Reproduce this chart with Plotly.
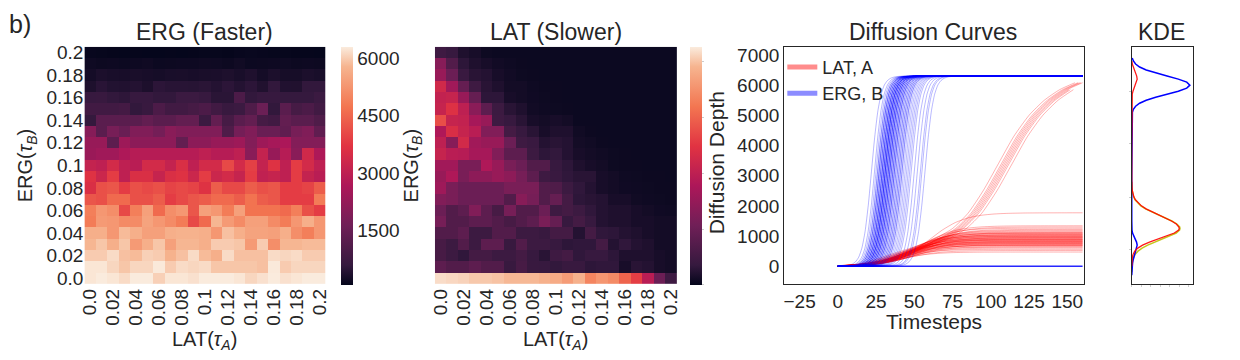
import plotly.graph_objects as go

W, H = 1240, 360
FONT = "Liberation Sans"
INK = "#262626"

# heatmap axes (tau values, labelled every second one)
tau = ["0.0", "0.01", "0.02", "0.03", "0.04", "0.05", "0.06", "0.07", "0.08", "0.09", "0.1",
       "0.11", "0.12", "0.13", "0.14", "0.15", "0.16", "0.17", "0.18", "0.19", "0.2"]
tau_ticks = ["0.0", "0.02", "0.04", "0.06", "0.08", "0.1", "0.12", "0.14", "0.16", "0.18", "0.2"]

# ERG (Faster) diffusion depth, rows from tau_B = 0.2 (top) down to 0.0
erg_rows = [
    [130, 120, 110, 100, 110, 100, 100, 110, 100, 110, 120, 120, 110, 130, 140, 130, 120, 120, 110, 110, 100],
    [200, 180, 190, 170, 190, 210, 170, 180, 190, 190, 210, 200, 180, 220, 170, 180, 190, 200, 180, 190, 180],
    [260, 330, 300, 290, 310, 290, 270, 300, 310, 290, 310, 320, 350, 300, 360, 260, 330, 280, 280, 330, 300],
    [350, 470, 400, 390, 420, 340, 500, 460, 460, 450, 480, 420, 500, 420, 500, 380, 560, 390, 380, 560, 560],
    [620, 640, 560, 520, 620, 620, 560, 560, 700, 700, 620, 480, 480, 1000, 560, 620, 620, 590, 590, 590, 700],
    [800, 800, 800, 850, 560, 650, 1000, 800, 800, 900, 1000, 800, 650, 700, 1050, 1550, 560, 1250, 900, 1000, 800],
    [580, 1250, 1250, 1250, 1250, 1400, 1250, 1250, 1400, 1400, 700, 1400, 900, 1250, 1400, 900, 800, 1400, 1250, 1250, 1050],
    [2000, 1250, 1750, 1500, 1900, 1900, 1700, 2050, 1900, 1900, 1900, 1900, 1050, 1700, 1900, 1500, 1500, 1350, 1750, 1900, 1350],
    [2300, 2300, 1300, 2400, 2100, 2100, 2100, 2100, 1400, 2100, 2100, 2300, 2300, 2400, 1950, 2400, 2550, 2650, 1950, 1950, 1950],
    [2350, 2450, 2450, 2700, 2850, 2850, 2850, 2850, 2850, 2850, 3000, 2850, 2850, 3000, 2050, 3100, 2300, 2850, 2050, 3350, 2700],
    [3100, 3000, 3400, 3000, 2900, 3400, 3400, 3100, 3550, 3000, 3400, 3400, 4050, 3400, 3900, 3100, 3650, 3000, 3850, 3400, 3000],
    [3650, 3250, 3850, 3000, 3550, 3550, 3150, 3550, 3650, 3250, 3850, 3250, 3400, 3150, 3850, 3050, 3150, 3000, 3850, 3100, 2900],
    [3550, 4150, 4250, 3850, 4150, 4050, 4150, 3950, 4050, 3950, 3650, 4350, 4050, 4050, 4350, 4150, 4250, 3850, 3850, 3950, 4350],
    [4250, 4150, 4550, 4550, 4150, 4150, 4350, 3850, 4050, 4250, 4350, 4550, 4550, 4350, 4700, 4350, 4250, 3850, 3850, 3850, 4850],
    [4900, 5300, 5150, 4050, 4900, 5450, 4550, 5150, 5300, 4250, 5450, 5300, 4850, 5450, 4700, 4700, 4700, 4550, 4900, 4150, 3850],
    [4850, 5350, 5300, 5100, 5100, 5500, 5300, 5100, 4850, 4050, 4550, 5800, 5350, 5100, 5450, 5450, 5100, 4850, 5300, 5700, 5300],
    [5700, 5700, 5300, 5850, 5700, 5450, 5450, 5700, 5750, 5750, 5700, 5300, 5900, 5700, 5500, 5500, 5450, 5700, 5150, 4900, 5300],
    [5800, 5950, 5700, 5950, 5350, 5700, 5950, 5450, 5800, 5800, 5700, 6000, 6000, 5950, 5350, 6000, 5150, 5800, 5800, 5850, 5850],
    [6000, 6000, 6150, 5900, 5850, 6050, 6000, 5750, 5900, 6150, 5850, 5700, 6150, 5900, 5900, 5900, 6150, 6100, 6150, 6000, 6000],
    [6250, 6250, 6100, 5950, 6100, 6100, 6280, 6000, 6150, 6100, 6150, 5950, 5950, 5950, 5950, 5900, 6280, 6000, 6100, 6100, 6100],
    [6250, 6300, 6250, 6150, 6300, 6300, 6050, 6250, 6250, 6200, 6300, 6300, 6300, 6250, 6100, 6200, 6300, 6200, 6250, 6300, 6300],
]

# LAT (Slower) diffusion depth, rows from tau_B = 0.2 (top) down to 0.0
lat_rows = [
    [700, 560, 300, 220, 120, 100, 100, 100, 100, 100, 100, 100, 100, 100, 100, 100, 100, 100, 100, 100, 100],
    [2000, 1050, 450, 300, 220, 160, 130, 110, 100, 100, 100, 100, 100, 100, 100, 100, 100, 100, 100, 100, 100],
    [2300, 1500, 600, 400, 350, 220, 160, 120, 110, 100, 100, 100, 100, 100, 100, 100, 100, 100, 100, 100, 100],
    [3350, 2450, 1400, 700, 400, 300, 180, 180, 130, 110, 110, 100, 100, 100, 100, 100, 100, 100, 100, 100, 100],
    [3100, 3150, 2300, 1400, 450, 450, 220, 180, 140, 120, 110, 100, 100, 100, 100, 100, 100, 100, 100, 100, 100],
    [3150, 3650, 3000, 2050, 1250, 650, 400, 300, 160, 130, 120, 110, 100, 100, 100, 100, 100, 100, 100, 100, 100],
    [4150, 3150, 3100, 2550, 2300, 700, 560, 400, 220, 180, 220, 180, 100, 100, 100, 100, 100, 100, 100, 100, 100],
    [2700, 3550, 3150, 2900, 1900, 1900, 800, 560, 400, 220, 300, 300, 150, 110, 100, 100, 100, 100, 100, 100, 100],
    [3000, 2000, 3400, 2450, 2300, 2300, 1500, 700, 600, 350, 400, 350, 180, 150, 110, 100, 100, 100, 100, 100, 100],
    [3150, 2900, 2850, 2550, 2550, 1900, 1250, 1250, 650, 450, 500, 350, 220, 180, 150, 120, 110, 100, 100, 100, 100],
    [2450, 2450, 1750, 1750, 2700, 2300, 1750, 1500, 1050, 1050, 560, 450, 300, 220, 180, 120, 110, 110, 100, 100, 100],
    [2300, 2700, 1750, 2100, 2100, 2300, 2100, 1700, 1250, 700, 600, 480, 400, 400, 220, 180, 130, 120, 110, 110, 100],
    [2400, 1750, 1500, 1500, 1500, 1500, 1750, 1750, 1750, 1050, 1000, 650, 480, 350, 220, 180, 140, 130, 120, 110, 110],
    [1900, 1750, 1500, 1500, 1500, 1500, 1050, 2000, 1700, 1050, 1400, 800, 450, 400, 350, 220, 220, 150, 130, 120, 110],
    [1500, 1050, 1250, 1900, 1250, 850, 1700, 1050, 1050, 1500, 700, 800, 650, 480, 350, 300, 300, 220, 180, 140, 130],
    [1700, 1050, 1050, 1250, 1250, 1050, 850, 1050, 1250, 1750, 1400, 560, 800, 560, 350, 300, 300, 220, 220, 180, 180],
    [1050, 1050, 1250, 650, 650, 1050, 1050, 650, 650, 580, 800, 800, 350, 800, 480, 450, 350, 300, 220, 180, 180],
    [850, 650, 1050, 650, 1250, 1250, 580, 1050, 650, 650, 560, 450, 480, 480, 800, 350, 480, 350, 300, 180, 180],
    [850, 650, 480, 800, 800, 650, 650, 800, 560, 400, 700, 800, 480, 560, 560, 450, 300, 300, 300, 220, 180],
    [1250, 1050, 1050, 1250, 1050, 1050, 580, 850, 580, 560, 500, 580, 580, 450, 480, 480, 220, 400, 350, 220, 180],
    [6250, 6200, 6150, 6050, 6050, 6000, 5900, 5900, 5900, 5800, 5700, 5450, 5800, 5050, 5350, 5150, 4500, 3900, 2900, 1500, 700],
]

# diffusion curves: a sigmoid rise (fraction of final depth vs offset from midpoint)
rise_offset = [-40, -32, -26, -22, -18, -15, -12, -9, -6, -3, 0, 3, 6, 9, 12, 15, 18, 22, 26, 32, 40]
rise_frac = [0.0, 0.0003, 0.0015, 0.004, 0.011, 0.023, 0.047, 0.095, 0.182, 0.321, 0.5,
             0.679, 0.818, 0.905, 0.953, 0.977, 0.989, 0.996, 0.9985, 0.9997, 1.0]

erg_final = 6300
erg_mid = [22, 24, 25, 26, 26, 27, 27, 27, 28, 28, 28, 29, 29, 29, 29, 30, 30, 30, 30, 31, 31, 31, 31, 31,
           32, 32, 32, 32, 33, 33, 33, 33, 34, 34, 34, 34, 35, 35, 35, 36, 36, 36, 37, 37, 37, 38, 38, 39,
           39, 40, 40, 41, 41, 42, 42, 43, 44, 45, 46, 47, 48, 50, 52, 54, 55, 57]

lat_plateau = [470, 520, 560, 600, 630, 650, 680, 700, 710, 730, 750, 760, 780, 800, 810, 830, 850, 860, 880, 900,
               910, 930, 950, 960, 980, 1000, 1010, 1030, 1050, 1070, 1090, 1110, 1130, 1160, 1190, 1220, 1260, 1300,
               1340, 1770, 690, 740, 790, 820, 870, 890, 940, 990, 1040, 1100]
lat_mid = [40, 44, 41, 46, 43, 48, 42, 45, 50, 44, 47, 41, 49, 45, 43, 52, 46, 44, 48, 50,
           45, 47, 53, 46, 49, 51, 44, 48, 52, 47, 50, 54, 49, 51, 53, 55, 52, 56, 54, 60,
           46, 43, 47, 45, 49, 44, 48, 46, 50, 47]

# LAT runs that eventually take over the whole network
late_t = [0, 10, 20, 30, 40, 50, 60, 70, 80, 90, 100, 110, 120, 130, 140, 150, 160]
late_depth = [0, 20, 90, 230, 400, 560, 720, 950, 1250, 1750, 2500, 3400, 4300, 5000, 5500, 5850, 6080]
late_shift = [-5, -3, -2, -1, 0, 1, 2, 4]

# KDE of the final depths
kde_blue_y = [-300, -200, -100, 0, 100, 200, 300, 400, 500, 600, 700, 800, 900, 1000, 1100, 1200, 1300, 1500,
              3000, 4900, 5000, 5100, 5200, 5300, 5400, 5500, 5600, 5700, 5800, 5900, 6000, 6100, 6200, 6300,
              6400, 6500, 6600, 6700, 6800, 6900]
kde_blue_d = [0.0, 0.001, 0.003, 0.006, 0.013, 0.023, 0.038, 0.056, 0.075, 0.088, 0.093, 0.082, 0.056, 0.030,
              0.013, 0.004, 0.001, 0.0, 0.0, 0.001, 0.004, 0.011, 0.028, 0.066, 0.135, 0.249, 0.411, 0.607,
              0.801, 0.946, 1.0, 0.946, 0.801, 0.607, 0.411, 0.249, 0.135, 0.066, 0.028, 0.008]
kde_red_y = [0, 100, 200, 300, 400, 500, 600, 700, 800, 900, 1000, 1100, 1200, 1250, 1300, 1400, 1500, 1600,
             1700, 1800, 1900, 2000, 2100, 2200, 2300, 2400, 2500, 2600, 2800, 4000, 5500, 5600, 5700, 5800,
             5900, 6000, 6100, 6200, 6300, 6400, 6500, 6600, 6700, 6800]
kde_red_d = [0.0, 0.001, 0.004, 0.010, 0.024, 0.052, 0.104, 0.186, 0.304, 0.449, 0.602, 0.732, 0.807, 0.817,
             0.811, 0.766, 0.684, 0.577, 0.460, 0.347, 0.247, 0.166, 0.105, 0.063, 0.036, 0.019, 0.010, 0.005,
             0.001, 0.0, 0.001, 0.003, 0.009, 0.021, 0.040, 0.064, 0.085, 0.093, 0.085, 0.064, 0.040, 0.021,
             0.009, 0.003]
kde_yel_y = [-200, -100, 0, 100, 200, 300, 400, 500, 600, 700, 800, 900, 1000, 1100, 1200, 1250, 1300, 1400,
             1500, 1600, 1700, 1800, 1900, 2000, 2100, 2200, 2300, 2400, 2500, 2600, 2800]
kde_yel_d = [0.0, 0.001, 0.003, 0.007, 0.015, 0.031, 0.059, 0.107, 0.178, 0.275, 0.396, 0.531, 0.661, 0.765,
             0.822, 0.830, 0.824, 0.776, 0.689, 0.577, 0.455, 0.338, 0.236, 0.156, 0.097, 0.057, 0.032, 0.016,
             0.008, 0.004, 0.001]

rocket = [[0.0, "#03051a"], [0.083, "#35193e"], [0.25, "#701f57"], [0.417, "#ad1759"],
          [0.583, "#e13342"], [0.75, "#f37651"], [0.917, "#f6b48f"], [1.0, "#faebdd"]]


def px(x):
    return x / W


def py(y):
    return 1 - y / H


fig = go.Figure()

fig.add_trace(go.Heatmap(
    x=tau, y=tau, z=erg_rows[::-1], colorscale=rocket, zmin=75, zmax=6300,
    xaxis="x", yaxis="y",
    colorbar=dict(x=px(338), xanchor="left", y=py(165.5), yanchor="middle", len=245 / H,
                  thickness=12, outlinewidth=0, xpad=0, ypad=0, ticks="",
                  tickvals=[1500, 3000, 4500, 6000], tickfont=dict(size=19, color=INK)),
))
fig.add_trace(go.Heatmap(
    x=tau, y=tau, z=lat_rows[::-1], colorscale=rocket, zmin=0, zmax=6390,
    xaxis="x2", yaxis="y2",
    colorbar=dict(x=px(690), xanchor="left", y=py(165.5), yanchor="middle", len=245 / H,
                  thickness=12, outlinewidth=0, xpad=0, ypad=0, ticks="outside", ticklen=2,
                  tickcolor="#cccccc", showticklabels=False, tickvals=[0, 1500, 3000, 4500, 6000]),
))

# legend entries
fig.add_trace(go.Scatter(x=[None], y=[None], mode="lines", name="LAT, A",
                         line=dict(color="rgba(255,0,0,0.45)", width=5), xaxis="x3", yaxis="y3"))
fig.add_trace(go.Scatter(x=[None], y=[None], mode="lines", name="ERG, B",
                         line=dict(color="rgba(0,0,255,0.45)", width=5), xaxis="x3", yaxis="y3"))

red = "rgba(255,0,0,0.3)"
blue = "rgba(0,0,255,0.28)"

for plateau, mid in zip(lat_plateau, lat_mid):
    xs, ys = [0], [0]
    for o, f in zip(rise_offset, rise_frac):
        t = mid + o * 2.8
        if 0 < t < 160:
            xs.append(t)
            ys.append(plateau * f)
    xs.append(160)
    ys.append(plateau)
    fig.add_trace(go.Scatter(x=xs, y=ys, mode="lines", line=dict(color=red, width=1, shape="spline", smoothing=0.6),
                             showlegend=False, hoverinfo="skip", xaxis="x3", yaxis="y3"))

for s in late_shift:
    xs, ys = [0], [0]
    for t, v in zip(late_t, late_depth):
        if 0 < t + s <= 160:
            xs.append(t + s)
            ys.append(v)
    fig.add_trace(go.Scatter(x=xs, y=ys, mode="lines", line=dict(color=red, width=1, shape="spline", smoothing=0.6),
                             showlegend=False, hoverinfo="skip", xaxis="x3", yaxis="y3"))

for mid in erg_mid:
    xs, ys = [0], [0]
    for o, f in zip(rise_offset, rise_frac):
        t = mid + o * 0.7
        if 0 < t < 160:
            xs.append(t)
            ys.append(erg_final * f)
    xs.append(160)
    ys.append(erg_final)
    fig.add_trace(go.Scatter(x=xs, y=ys, mode="lines", line=dict(color=blue, width=1, shape="spline", smoothing=0.6),
                             showlegend=False, hoverinfo="skip", xaxis="x3", yaxis="y3"))

fig.add_trace(go.Scatter(x=[0, 160], y=[0, 0], mode="lines", line=dict(color="rgba(0,0,255,0.85)", width=1.5),
                         showlegend=False, hoverinfo="skip", xaxis="x3", yaxis="y3"))

# KDE panel (yellow underneath, red on top)
fig.add_trace(go.Scatter(x=kde_yel_d, y=kde_yel_y, mode="lines", line=dict(color="rgba(191,191,0,0.9)", width=1.5),
                         showlegend=False, xaxis="x4", yaxis="y4"))
fig.add_trace(go.Scatter(x=kde_blue_d, y=kde_blue_y, mode="lines", line=dict(color="#0000ff", width=1.5),
                         showlegend=False, xaxis="x4", yaxis="y4"))
fig.add_trace(go.Scatter(x=kde_red_d, y=kde_red_y, mode="lines", line=dict(color="rgba(255,0,0,0.9)", width=1.3),
                         showlegend=False, xaxis="x4", yaxis="y4"))

hm_y = [py(287), py(43)]
common = dict(showgrid=False, zeroline=False, tickfont=dict(size=19, color=INK))
heat_x = dict(type="category", tickmode="array", tickvals=tau_ticks, ticktext=tau_ticks, tickangle=-90, ticks="", **common)
heat_y = dict(type="category", tickmode="array", tickvals=tau_ticks, ticktext=tau_ticks, ticks="", domain=hm_y, **common)
frame = dict(showline=True, mirror=True, linecolor=INK, linewidth=1.3)

fig.update_layout(
    width=W, height=H, margin=dict(l=0, r=0, t=0, b=0),
    paper_bgcolor="white", plot_bgcolor="white",
    font=dict(family=FONT, color=INK, size=19),
    xaxis=dict(domain=[px(80), px(323)], anchor="y", **heat_x),
    yaxis=dict(anchor="x", **heat_y),
    xaxis2=dict(domain=[px(433), px(677)], anchor="y2", **heat_x),
    yaxis2=dict(anchor="x2", showticklabels=False, **heat_y),
    xaxis3=dict(domain=[px(785), px(1087)], anchor="y3", range=[-35, 161],
                tickvals=[-25, 0, 25, 50, 75, 100, 125, 150], ticks="", **frame, **common),
    yaxis3=dict(domain=hm_y, anchor="x3", range=[-590, 7270],
                tickvals=[0, 1000, 2000, 3000, 4000, 5000, 6000, 7000], ticks="", **frame, **common),
    xaxis4=dict(domain=[px(1135), px(1197)], anchor="y4", range=[0, 1.059],
                tickvals=[0, 0.164, 0.328, 0.491, 0.655, 0.819, 0.983], ticks="outside", ticklen=2,
                tickcolor="#cccccc", showticklabels=False, showgrid=False, zeroline=False, **frame),
    yaxis4=dict(domain=hm_y, anchor="x4", range=[-590, 7270],
                tickvals=[547, 2283, 4051, 5788], ticks="outside", ticklen=2,
                tickcolor="#cccccc", showticklabels=False, showgrid=False, zeroline=False, **frame),
    showlegend=True,
    legend=dict(x=px(783), y=py(45), xanchor="left", yanchor="top", bgcolor="rgba(0,0,0,0)",
                font=dict(size=18, color=INK), itemwidth=30, tracegroupgap=0),
)

notes = [
    ("b)", 2, 20, 25, 0, "left"),
    ("ERG (Faster)", 201, 28, 23, 0, "center"),
    ("LAT (Slower)", 555, 28, 23, 0, "center"),
    ("Diffusion Curves", 935, 28, 23, 0, "center"),
    ("KDE", 1165, 28, 23, 0, "center"),
    ("LAT(<i>τ<sub>A</sub></i>)", 201, 345, 20, 0, "center"),
    ("LAT(<i>τ<sub>A</sub></i>)", 555, 345, 20, 0, "center"),
    ("ERG(<i>τ<sub>B</sub></i>)", 22, 165, 20, -90, "center"),
    ("ERG(<i>τ<sub>B</sub></i>)", 410, 165, 20, -90, "center"),
    ("Diffusion Depth", 717, 162, 21, -90, "center"),
    ("Timesteps", 936, 326, 21, 0, "center"),
]
for text, x, y, size, angle, anchor in notes:
    fig.add_annotation(text=text, x=px(x), y=py(y), xref="paper", yref="paper", showarrow=False,
                       xanchor=anchor, yanchor="middle", textangle=angle, font=dict(size=size, color=INK))

fig.write_html("out.html", config={"displayModeBar": False},
               post_script="document.body.style.margin='0';")
